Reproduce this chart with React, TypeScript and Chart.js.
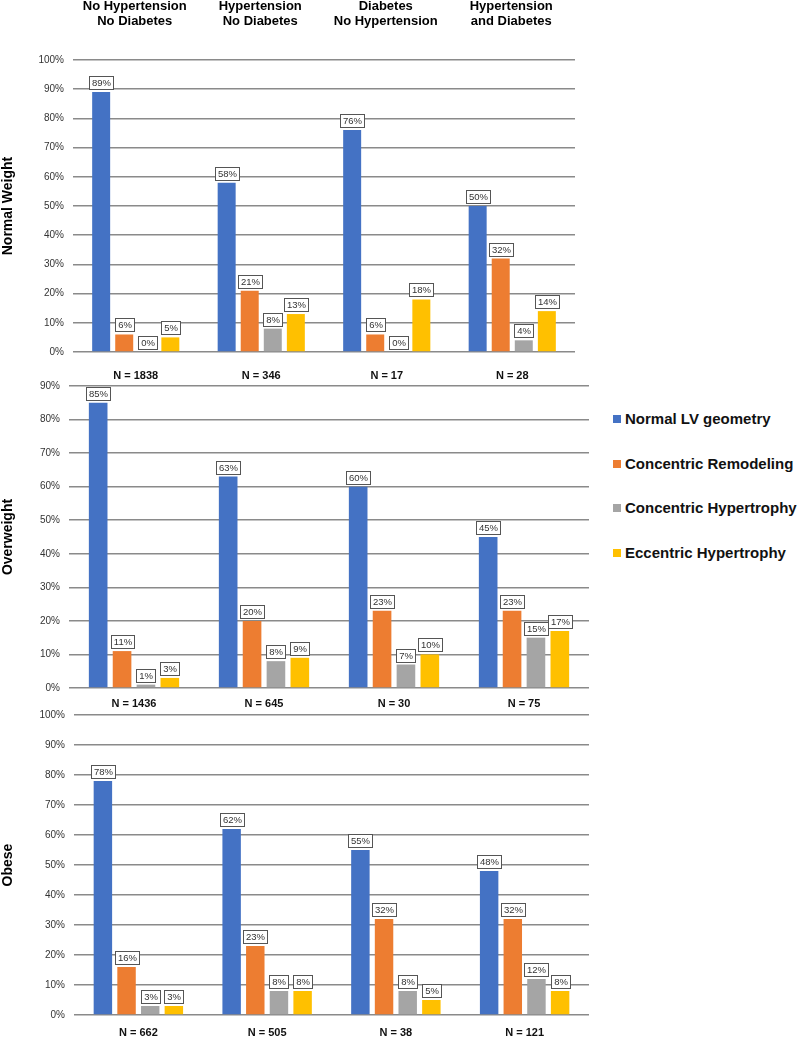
import React, { useEffect, useRef } from "react";
import { Chart, registerables } from "chart.js";

Chart.register(...registerables);

const FONT = "'Liberation Sans', Arial, Helvetica, sans-serif";
Chart.defaults.font.family = FONT;

// ---------- data ----------
const seriesNames = [
  "Normal LV geometry",
  "Concentric Remodeling",
  "Concentric Hypertrophy",
  "Eccentric Hypertrophy",
];
const seriesColors = ["#4472C4", "#ED7D31", "#A5A5A5", "#FFC000"];

const groupHeaders = [
  ["No Hypertension", "No Diabetes"],
  ["Hypertension", "No Diabetes"],
  ["Diabetes", "No Hypertension"],
  ["Hypertension", "and Diabetes"],
];

const panelTitles = ["Normal Weight", "Overweight", "Obese"];

const normalWeightN = ["N = 1838", "N = 346", "N = 17", "N = 28"];
const normalWeightNormalLV = [89, 58, 76, 50];
const normalWeightConcRemod = [6, 21, 6, 32];
const normalWeightConcHyper = [0, 8, 0, 4];
const normalWeightEccHyper = [5, 13, 18, 14];

const overweightN = ["N = 1436", "N = 645", "N = 30", "N = 75"];
const overweightNormalLV = [85, 63, 60, 45];
const overweightConcRemod = [11, 20, 23, 23];
const overweightConcHyper = [1, 8, 7, 15];
const overweightEccHyper = [3, 9, 10, 17];

const obeseN = ["N = 662", "N = 505", "N = 38", "N = 121"];
const obeseNormalLV = [78, 62, 55, 48];
const obeseConcRemod = [16, 23, 32, 32];
const obeseConcHyper = [3, 8, 8, 12];
const obeseEccHyper = [3, 8, 5, 8];

const yMaxes = [100, 90, 100];

// ---------- plugins ----------
const boxLabelPlugin = {
  id: "boxLabels",
  afterDatasetsDraw(chart: any) {
    const ctx = chart.ctx;
    ctx.save();
    ctx.font = `9.5px ${FONT}`;
    chart.data.datasets.forEach((ds: any, di: number) => {
      const meta = chart.getDatasetMeta(di);
      meta.data.forEach((bar: any, i: number) => {
        const text = ds.data[i] + "%";
        const w = Math.round(ctx.measureText(text).width + 5);
        const h = 13;
        const left = Math.round(bar.x - w / 2);
        const bottom = Math.round(bar.y - 3);
        const top = bottom - h;
        ctx.fillStyle = "#ffffff";
        ctx.fillRect(left, top, w, h);
        ctx.strokeStyle = "#555555";
        ctx.lineWidth = 1;
        ctx.strokeRect(left + 0.5, top + 0.5, w, h);
        ctx.fillStyle = "#333333";
        ctx.textAlign = "center";
        ctx.textBaseline = "middle";
        ctx.fillText(text, left + w / 2 + 0.5, top + h / 2 + 1);
      });
    });
    ctx.restore();
  },
};

const headerPlugin = {
  id: "groupHeaders",
  afterDraw(chart: any, _args: any, opts: any) {
    if (!opts || !opts.show) return;
    const ctx = chart.ctx;
    const xs = chart.scales.x;
    ctx.save();
    ctx.font = `bold 13px ${FONT}`;
    ctx.fillStyle = "#000";
    ctx.textAlign = "center";
    ctx.textBaseline = "alphabetic";
    groupHeaders.forEach((lines, i) => {
      const x = xs.getPixelForValue(i) - 1;
      ctx.fillText(lines[0], x, 10);
      ctx.fillText(lines[1], x, 24.5);
    });
    ctx.restore();
  },
};

type PanelProps = {
  title: string;
  labels: string[];
  values: number[][];
  yMax: number;
  top: number;
  width: number;
  height: number;
  padTop: number;
  yWidth: number;
  xHeight: number;
  xPad: number;
  headers: boolean;
};

function Panel(p: PanelProps) {
  const ref = useRef<HTMLCanvasElement | null>(null);
  useEffect(() => {
    if (!ref.current) return;
    const chart = new Chart(ref.current, {
      type: "bar",
      data: {
        labels: p.labels,
        datasets: seriesNames.map((name, si) => ({
          label: name,
          data: p.values[si],
          backgroundColor: seriesColors[si],
          borderWidth: 0,
          categoryPercentage: 0.735,
          barPercentage: 0.78,
        })),
      },
      options: {
        animation: false,
        responsive: false,
        events: [],
        layout: { padding: { top: p.padTop, left: 0, right: 0, bottom: 0 } },
        plugins: {
          legend: { display: false },
          tooltip: { enabled: false },
          groupHeaders: { show: p.headers },
        } as any,
        scales: {
          x: {
            offset: true,
            grid: { display: false, drawTicks: false },
            border: { display: false },
            ticks: {
              padding: p.xPad,
              maxRotation: 0,
              autoSkip: false,
              color: "#111",
              font: { size: 11, weight: "bold" },
            },
            afterFit: (s: any) => {
              s.height = p.xHeight;
            },
          },
          y: {
            min: 0,
            max: p.yMax,
            border: { display: false },
            grid: { color: "#8a8a8a", lineWidth: 1.5, drawTicks: false },
            ticks: {
              stepSize: 10,
              padding: 9,
              color: "#333",
              font: { size: 10 },
              callback: (v: any) => v + "%",
            },
            title: {
              display: true,
              text: p.title,
              color: "#000",
              padding: 0,
              font: { size: 14, weight: "bold" },
            },
            afterFit: (s: any) => {
              s.width = p.yWidth;
            },
          },
        },
      },
      plugins: [boxLabelPlugin, headerPlugin],
    });
    return () => chart.destroy();
  }, []);
  return (
    <canvas
      ref={ref}
      width={p.width}
      height={p.height}
      style={{ position: "absolute", left: 0, top: p.top, width: p.width, height: p.height }}
    />
  );
}

export default function App() {
  return (
    <div
      style={{
        position: "absolute",
        left: 0,
        top: 0,
        width: 800,
        height: 1037,
        background: "#fff",
        overflow: "hidden",
        fontFamily: FONT,
      }}
    >
      <Panel
        title={panelTitles[0]}
        labels={normalWeightN}
        values={[normalWeightNormalLV, normalWeightConcRemod, normalWeightConcHyper, normalWeightEccHyper]}
        yMax={yMaxes[0]}
        top={0}
        width={575}
        height={387}
        padTop={60}
        yWidth={73}
        xHeight={35}
        xPad={17}
        headers={true}
      />
      <Panel
        title={panelTitles[1]}
        labels={overweightN}
        values={[overweightNormalLV, overweightConcRemod, overweightConcHyper, overweightEccHyper]}
        yMax={yMaxes[1]}
        top={370}
        width={589}
        height={343}
        padTop={16}
        yWidth={69}
        xHeight={25}
        xPad={9}
        headers={false}
      />
      <Panel
        title={panelTitles[2]}
        labels={obeseN}
        values={[obeseNormalLV, obeseConcRemod, obeseConcHyper, obeseEccHyper]}
        yMax={yMaxes[2]}
        top={700}
        width={589}
        height={337}
        padTop={14}
        yWidth={74}
        xHeight={22}
        xPad={11}
        headers={false}
      />
      <div style={{ position: "absolute", left: 613, top: 397 }}>
        {seriesNames.map((name, i) => (
          <div
            key={name}
            style={{
              display: "flex",
              alignItems: "center",
              height: 44.5,
              marginTop: 0,
              lineHeight: "24px",
            }}
          >
            <span
              style={{
                display: "inline-block",
                width: 8,
                height: 8,
                background: seriesColors[i],
                marginRight: 4,
              }}
            />
            <span style={{ fontWeight: "bold", fontSize: 15, color: "#111", whiteSpace: "nowrap" }}>{name}</span>
          </div>
        ))}
      </div>
    </div>
  );
}
